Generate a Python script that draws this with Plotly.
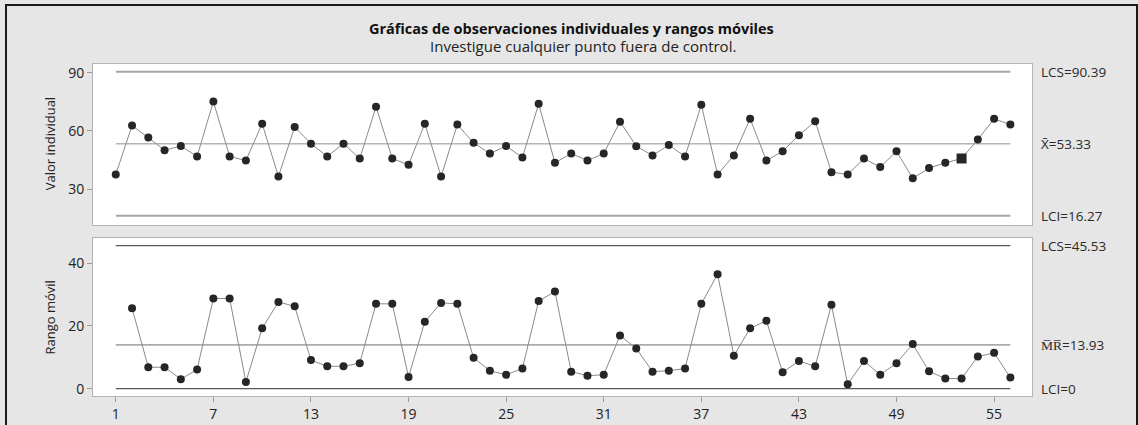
import plotly.graph_objects as go

W, H = 1138, 425

# ---------------- data ----------------
obs = list(range(1, 57))
individual = [37.5, 62.7, 56.5, 50.0, 52.2, 46.8, 75.1, 46.8, 44.7, 63.7,
              36.5, 62.0, 53.4, 46.8, 53.4, 45.7, 72.4, 45.7, 42.5, 63.7,
              36.5, 63.2, 53.8, 48.3, 52.2, 46.2, 73.9, 43.5, 48.3, 44.7,
              48.3, 64.7, 52.1, 47.3, 52.7, 46.8, 73.4, 37.5, 47.3, 66.2,
              44.7, 49.5, 57.7, 64.9, 38.7, 37.5, 45.7, 41.3, 49.5, 35.5,
              40.8, 43.5, 45.7, 55.5, 66.2, 63.2]
mr_obs = list(range(2, 57))
moving_range = [25.6, 6.8, 6.8, 3.0, 6.1, 28.7, 28.7, 2.1, 19.2, 27.6,
                26.2, 9.1, 7.1, 7.1, 8.1, 27.0, 27.0, 3.7, 21.3, 27.3,
                27.0, 9.8, 5.7, 4.4, 6.4, 27.9, 30.9, 5.4, 4.1, 4.4,
                16.9, 12.8, 5.4, 5.7, 6.4, 27.0, 36.4, 10.5, 19.2, 21.6,
                5.2, 8.8, 7.1, 26.7, 1.4, 8.8, 4.4, 8.1, 14.2, 5.5,
                3.2, 3.2, 10.2, 11.4, 3.5]
flagged = [53]

i_lcs, i_center, i_lci = 90.39, 53.33, 16.27
mr_lcs, mr_center, mr_lci = 45.53, 13.93, 0.0

x_ticks = [1, 7, 13, 19, 25, 31, 37, 43, 49, 55]
i_ticks = [30, 60, 90]
mr_ticks = [0, 20, 40]

title = "Gráficas de observaciones individuales y rangos móviles"
subtitle = "Investigue cualquier punto fuera de control."
i_axis_title = "Valor individual"
mr_axis_title = "Rango móvil"

# ---------------- helpers ----------------
def px(x):
    return x / W

def py(y):
    return 1 - y / H

FONT = "Open Sans"
fig = go.Figure()

x_span = [obs[0], obs[-1]]

# control lines, individual chart
for val, col, wd in [(i_lcs, "#a6a6a6", 2), (i_center, "#b4b4b4", 1.6), (i_lci, "#a6a6a6", 2)]:
    fig.add_trace(go.Scatter(x=x_span, y=[val, val], mode="lines",
                             line=dict(color=col, width=wd), xaxis="x", yaxis="y",
                             hoverinfo="skip", showlegend=False))
# control lines, MR chart
for val, col, wd in [(mr_lcs, "#5a5a5a", 1.3), (mr_center, "#ababab", 1.6), (mr_lci, "#5a5a5a", 1.3)]:
    fig.add_trace(go.Scatter(x=x_span, y=[val, val], mode="lines",
                             line=dict(color=col, width=wd), xaxis="x2", yaxis="y2",
                             hoverinfo="skip", showlegend=False))

MARK = "#262626"
fig.add_trace(go.Scatter(x=obs, y=individual, mode="lines+markers",
                         line=dict(color="#8a8a8a", width=1),
                         marker=dict(color=MARK, size=8, symbol="circle",
                                     opacity=1, line=dict(width=0)),
                         xaxis="x", yaxis="y", showlegend=False))
fx = [o for o in obs if o in flagged]
fy = [v for o, v in zip(obs, individual) if o in flagged]
fig.add_trace(go.Scatter(x=fx, y=fy, mode="markers",
                         marker=dict(color=MARK, size=10, symbol="square",
                                     opacity=1, line=dict(width=0)),
                         xaxis="x", yaxis="y", showlegend=False))
fig.add_trace(go.Scatter(x=mr_obs, y=moving_range, mode="lines+markers",
                         line=dict(color="#8a8a8a", width=1),
                         marker=dict(color=MARK, size=8, symbol="circle",
                                     opacity=1, line=dict(width=0)),
                         xaxis="x2", yaxis="y2", showlegend=False))

xdom = [px(93), px(1032)]
tickfont = dict(family=FONT, size=14, color="#222222")
ax_common = dict(showgrid=False, zeroline=False, showline=True, linecolor="#b4b4b4",
                 linewidth=1, mirror=True, tickcolor="#9a9a9a",
                 ticklen=5, tickfont=tickfont)

fig.update_layout(
    width=W, height=H,
    margin=dict(l=0, r=0, t=0, b=0),
    paper_bgcolor="#e6e6e6",
    plot_bgcolor="#ffffff",
    font=dict(family=FONT, color="#222222"),
    xaxis=dict(domain=xdom, range=[-0.4, 57.33], anchor="y",
               showticklabels=False, ticks="", **ax_common),
    yaxis=dict(domain=[py(225), py(63)], range=[11.5, 94.6], anchor="x",
               tickvals=i_ticks, ticks="outside", **ax_common),
    xaxis2=dict(domain=xdom, range=[-0.4, 57.33], anchor="y2",
                tickvals=x_ticks, ticks="outside", **ax_common),
    yaxis2=dict(domain=[py(397), py(238)], range=[-2.4, 48.0], anchor="x2",
                tickvals=mr_ticks, ticks="outside", **ax_common),
)

# axis titles
for txt, ycen in [(i_axis_title, 144), (mr_axis_title, 318)]:
    fig.add_annotation(text=txt, x=px(50), y=py(ycen), xref="paper", yref="paper",
                       showarrow=False, textangle=-90, xanchor="center", yanchor="middle",
                       font=dict(family=FONT, size=13, color="#222222"))

# titles
fig.add_annotation(text="<b>" + title + "</b>", x=px(571), y=py(28), xref="paper", yref="paper",
                   showarrow=False, font=dict(family=FONT, size=14.5, color="#111111"),
                   xanchor="center", yanchor="middle")
fig.add_annotation(text=subtitle, x=px(583), y=py(45), xref="paper", yref="paper",
                   showarrow=False, font=dict(family=FONT, size=15, color="#222222"),
                   xanchor="center", yanchor="middle")

# right-hand labels
lab_x = px(1039)
labels = [
    ("LCS=%.2f" % i_lcs, i_lcs, "y"),
    ("X\u0304=%.2f" % i_center, i_center, "y"),
    ("LCI=%.2f" % i_lci, i_lci, "y"),
    ("LCS=%.2f" % mr_lcs, mr_lcs, "y2"),
    ("M\u0305R\u0305=%.2f" % mr_center, mr_center, "y2"),
    ("LCI=%g" % mr_lci, mr_lci, "y2"),
]
for txt, val, yr in labels:
    fig.add_annotation(text=txt, x=lab_x, y=val, xref="paper", yref=yr,
                       showarrow=False, xanchor="left", yanchor="middle",
                       font=dict(family=FONT, size=13.5, color="#2a2a2a"))

# outer frame
fig.add_shape(type="rect", xref="paper", yref="paper",
              x0=px(6), x1=px(1137), y0=py(440), y1=py(4),
              line=dict(color="#1a1a1a", width=2), layer="above")

fig.write_html("out.html", config={"displayModeBar": False},
               post_script="document.body.style.margin='0';document.body.style.overflow='hidden';")
